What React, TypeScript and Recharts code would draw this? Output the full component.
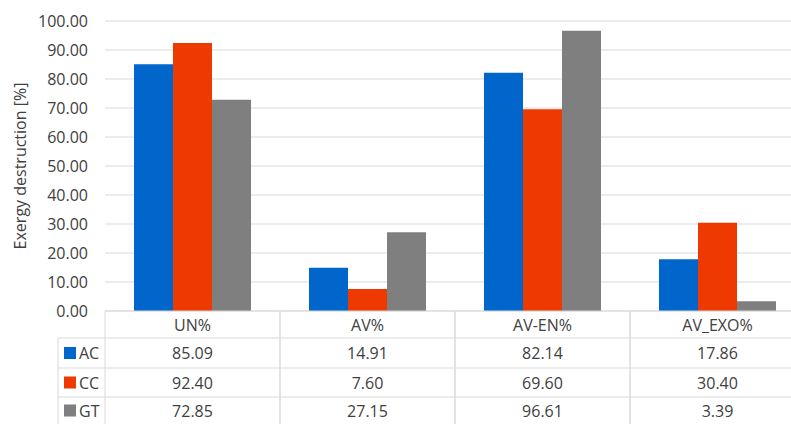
import { Bar, BarChart, CartesianGrid, XAxis, YAxis } from "recharts";

const categories = ["UN%", "AV%", "AV-EN%", "AV_EXO%"];
const acValues = [85.09, 14.91, 82.14, 17.86];
const ccValues = [92.4, 7.6, 69.6, 30.4];
const gtValues = [72.85, 27.15, 96.61, 3.39];
const yTicks = [0, 10, 20, 30, 40, 50, 60, 70, 80, 90, 100];

const series = [
  { key: "AC", values: acValues, color: "#0066cc" },
  { key: "CC", values: ccValues, color: "#ee3a00" },
  { key: "GT", values: gtValues, color: "#7f7f7f" },
];

const data = categories.map((name, i) => ({
  name,
  AC: acValues[i],
  CC: ccValues[i],
  GT: gtValues[i],
}));

const FONT = "'Open Sans', sans-serif";
const TEXT = "#404040";
const LINE = "#d9d9d9";
const HEADER_H = 27;
const ROW_H = [30, 29, 27];
const LEGEND_LEFT = 58;

// data table under the plot, one column per category
function TableTick(props: any) {
  const { x, y, payload } = props;
  const half = payload.offset ?? 87.5;
  const left = x - half;
  const right = x + half;
  const i = payload.index;
  const rowTops: number[] = [];
  let acc = y + HEADER_H;
  ROW_H.forEach((h) => {
    rowTops.push(acc);
    acc += h;
  });
  const bottom = acc;

  return (
    <g fontFamily={FONT} fontSize={16} fill={TEXT}>
      <line x1={left} x2={left} y1={y} y2={bottom} stroke={LINE} />
      <line x1={right} x2={right} y1={y} y2={bottom} stroke={LINE} />
      <text x={x} y={y + HEADER_H / 2} textAnchor="middle" dominantBaseline="central">
        {payload.value}
      </text>
      {series.map((s, r) => (
        <g key={s.key}>
          <line x1={left} x2={right} y1={rowTops[r]} y2={rowTops[r]} stroke={LINE} />
          <text
            x={x}
            y={rowTops[r] + ROW_H[r] / 2}
            textAnchor="middle"
            dominantBaseline="central"
          >
            {s.values[i].toFixed(2)}
          </text>
        </g>
      ))}
      {i === 0 && (
        <g>
          <line x1={LEGEND_LEFT} x2={LEGEND_LEFT} y1={rowTops[0]} y2={bottom} stroke={LINE} />
          {series.map((s, r) => (
            <g key={s.key}>
              <line x1={LEGEND_LEFT} x2={left} y1={rowTops[r]} y2={rowTops[r]} stroke={LINE} />
              <rect x={64} y={rowTops[r] + ROW_H[r] / 2 - 6} width={12} height={12} fill={s.color} />
              <text x={79} y={rowTops[r] + ROW_H[r] / 2} dominantBaseline="central">
                {s.key}
              </text>
            </g>
          ))}
        </g>
      )}
    </g>
  );
}

function YLabel(props: any) {
  const { viewBox } = props;
  const cy = viewBox.y + viewBox.height / 2;
  return (
    <text
      x={20}
      y={cy}
      transform={`rotate(-90, 20, ${cy})`}
      textAnchor="middle"
      dominantBaseline="central"
      fontFamily={FONT}
      fontSize={16}
      fill={TEXT}
    >
      Exergy destruction [%]
    </text>
  );
}

export default function App() {
  return (
    <div
      style={{
        position: "absolute",
        left: 0,
        top: 0,
        width: 791,
        height: 424,
        overflow: "hidden",
        background: "#fff",
      }}
    >
      <BarChart
        width={805}
        height={424}
        data={data}
        margin={{ top: 21, right: 0, bottom: 0, left: 0 }}
        barCategoryGap={29}
        barGap={0}
      >
        <CartesianGrid vertical={false} stroke={LINE} />
        <XAxis
          dataKey="name"
          height={113}
          tickSize={0}
          tickMargin={0}
          axisLine={{ stroke: LINE }}
          tick={<TableTick />}
          interval={0}
        />
        <YAxis
          width={105}
          domain={[0, 100]}
          ticks={yTicks}
          tickFormatter={(v: number) => v.toFixed(2)}
          axisLine={false}
          tickSize={0}
          tickMargin={17}
          tick={{ fontFamily: FONT, fontSize: 16, fill: TEXT }}
          label={<YLabel />}
        />
        {series.map((s) => (
          <Bar key={s.key} dataKey={s.key} fill={s.color} isAnimationActive={false} />
        ))}
      </BarChart>
    </div>
  );
}
